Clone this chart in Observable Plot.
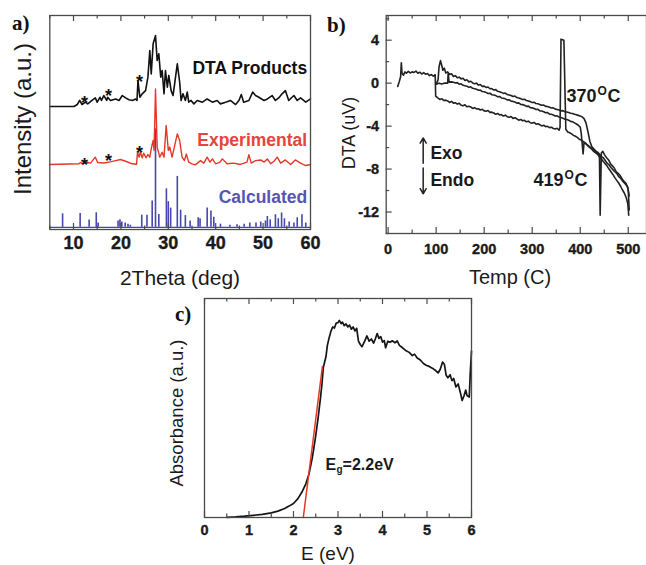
<!DOCTYPE html>
<html><head><meta charset="utf-8">
<script src="https://cdn.jsdelivr.net/npm/d3@7"></script>
<script src="https://cdn.jsdelivr.net/npm/@observablehq/plot@0.6"></script>
<style>
body{margin:0;background:#fff;overflow:hidden}
#root{position:relative;width:646px;height:565px;font-family:"Liberation Sans",Arial,sans-serif;overflow:hidden}
.lbl{position:absolute;white-space:nowrap;color:#1a1a1a;line-height:1}
.pl{position:absolute;white-space:nowrap;color:#111;font-family:"Liberation Serif","Times New Roman",serif;font-weight:bold;line-height:1}
</style></head><body><div id="root"></div><script>
// ---------- panel a: XRD (2Theta, arbitrary intensity, curves offset as drawn) ----------
const xrdSeries = ["DTA Products", "Experimental", "Calculated"];
const xrdMajor = [10, 20, 30, 40, 50, 60];
const xrdMinor = [5, 15, 25, 35, 45, 55];
const dtaProducts = [[5,57.5],[10.1,57.5],[10.8,58.4],[11.3,60.3],[11.8,58.4],[12.5,59.5],[13,58.7],[13.9,60.3],[14.6,61.5],[15,59.5],[15.6,61.8],[15.9,60.3],[16.4,62.6],[17,60.3],[17.2,61.8],[17.8,60.3],[18.9,61],[19.6,60.3],[20.3,62.6],[21,61.5],[21.7,60.6],[22.4,60.3],[23.1,61],[23.4,60.3],[23.6,69.6],[24,61.8],[24.5,63.4],[25.2,64.9],[25.7,71.2],[26.1,83.6],[26.4,72.7],[26.8,86.8],[27.3,90.6],[27.65,79],[28,82.1],[28.4,71.2],[28.7,74.3],[29.1,63.4],[29.4,74.3],[29.8,66.5],[30.1,72],[30.6,64.9],[31,62.6],[31.9,77.4],[32.4,68.8],[32.7,60.3],[33.1,63.4],[33.6,60.3],[34,64.2],[34.3,59.5],[34.8,60.3],[35.4,58.7],[36.1,60.3],[37.2,59.5],[38.2,61],[39.3,59.5],[40.3,60.3],[41,58.7],[42.1,59.5],[43.1,60.3],[44.2,58.4],[44.9,60.3],[45.4,63.1],[45.9,59.5],[47,60.3],[47.8,64.2],[48.4,62.6],[49.1,61.8],[50.2,60.3],[50.9,61],[51.9,62.6],[52.6,60.3],[53.3,61.5],[54,63.4],[54.7,64.9],[55.4,60.3],[56.5,62.6],[57.2,60.3],[57.9,61.5],[59,59.5],[60,61]];
const experimental = [[5,30.4],[11.1,30.7],[11.5,31.3],[11.8,30.7],[13,31.3],[13.6,31],[14.6,33.8],[15.1,31.3],[16.4,31.1],[17.8,31.6],[18.9,32.2],[19.9,32.7],[21,31.9],[22.4,30.7],[23.3,30.5],[23.5,36.1],[23.85,33.8],[24.1,36.1],[24.5,33.5],[24.8,35.7],[25.3,33.5],[25.7,35],[26.1,33.8],[26.4,37.7],[26.8,41.6],[27,36.9],[27.3,65.7],[27.65,38.5],[28.2,33.8],[28.7,36.1],[29.1,33.8],[29.55,48.6],[30,36.9],[30.3,38.5],[30.8,33.8],[31.9,44.7],[32.4,41.6],[32.9,33.8],[33.4,32.2],[33.8,35.3],[34.3,31.5],[35,30.7],[35.7,30.2],[36.8,32.2],[37.5,31],[38.2,33.8],[38.8,31.5],[39.3,33],[40,30.7],[40.9,31.5],[41.4,33],[42.4,30.7],[43.8,31],[45.2,30.4],[46.6,31.5],[47,35],[47.5,31],[48.4,32.2],[49.5,32.5],[50.2,31.5],[50.9,33],[51.6,30.7],[52.3,31.9],[53,33.8],[53.7,31],[54.7,32.5],[55.8,30.4],[56.8,32.5],[57.9,31],[59,29.9],[60,30.4]];
const calcBase = 1;
const calcPeaks = [[7.7,7.3],[11.4,7.5],[13.3,4.4],[14.8,7.8],[15.2,3],[19.4,4],[19.8,4.5],[20.2,3.5],[20.9,3],[21.5,2.5],[22,2],[24.4,6.7],[25.5,6.7],[26.6,13.3],[27.3,47],[28,7],[29.6,19],[30,13],[30.5,10],[31.9,24.8],[32.6,9],[33.6,6.5],[34.6,4],[36.3,5.5],[36.7,5],[38.2,10],[39,8.6],[39.6,5.7],[41,2.5],[43,2],[44.5,2.2],[46,2.5],[47.2,3],[48.5,3],[49.5,3.5],[50.5,4],[50.9,6.1],[51.5,4.5],[52.6,6.9],[53.2,5],[53.9,7.7],[54.5,5],[55.5,3.5],[56.5,3],[57.2,5.5],[58.2,6.9],[59,3]];
const starPeaks = [12.3, 17.4, 23.9];

// ---------- panel b: DTA (Temp C vs uV) ----------
const dtaMajorX = [0, 100, 200, 300, 400, 500];
const dtaMinorX = [50, 150, 250, 350, 450];
const dtaMajorY = [-12, -8, -4, 0, 4];
const dtaMinorY = [-14, -10, -6, -2, 2, 6];
const dtaRun1 = [[20,-0.3],[23,0.1],[26,0.6],[27.5,1.9],[29,0.9],[32,0.75],[35,1.05],[38,0.92],[42,1.1],[46,0.95],[50,1.05],[54,1],[58,1.12],[62,0.92],[66,1.02],[70,0.85],[74,0.98],[78,0.84],[82,0.9],[86,0.7],[90,0.8],[94,0.66],[98,0.78],[99,-1.2],[104,-1.4],[108,-1.52],[112,-1.45],[116,-1.62],[120,-1.58],[124,-1.66],[128,-1.8],[132,-1.7],[136,-1.86],[140,-1.82],[144,-1.95],[148,-1.88],[152,-2.05],[156,-2.1],[160,-2.02],[164,-2.2],[168,-2.15],[172,-2.22],[176,-2.35],[180,-2.28],[184,-2.4],[188,-2.38],[192,-2.5],[196,-2.44],[200,-2.58],[204,-2.62],[208,-2.55],[212,-2.72],[216,-2.7],[220,-2.78],[224,-2.9],[228,-2.82],[232,-2.96],[236,-2.92],[240,-3.06],[244,-2.98],[248,-3.12],[252,-3.18],[256,-3.1],[260,-3.28],[264,-3.22],[268,-3.32],[272,-3.45],[276,-3.38],[280,-3.5],[284,-3.46],[288,-3.6],[292,-3.54],[296,-3.68],[300,-3.72],[304,-3.66],[308,-3.82],[312,-3.78],[316,-3.88],[320,-3.98],[324,-3.92],[328,-4.05],[332,-4.02],[336,-4.14],[340,-4.1],[344,-4.22],[348,-4.26],[352,-4.2],[356,-4.38],[358,-4.1],[360,4.1],[366,4],[370,-4.3],[374,-4.55],[378,-4.62],[382,-4.72],[386,-4.86],[390,-4.95],[394,-5.05],[398,-5.22],[402,-5.3],[406,-5.42],[410,-5.6],[414,-5.72],[418,-5.85],[422,-6.02],[426,-6.12],[430,-6.28],[434,-6.45],[438,-6.6],[440,-6.8],[441.5,-12.3],[444,-6.5],[447,-6.35],[451,-6.7],[455,-6.95],[459,-7.15],[463,-7.5],[467,-7.7],[471,-7.9],[475,-8.25],[479,-8.4],[483,-8.6],[487,-8.9],[491,-9.15],[495,-9.3],[498,-9.6],[500,-10],[502,-11.8]];
const dtaRun2 = [[101,0],[104,0.3],[106,1.5],[109,2.1],[112,1.6],[114,1.2],[117,1.4],[120,0.95],[124,1.05],[128,0.8],[132,0.88],[136,0.62],[140,0.7],[144,0.5],[148,0.56],[152,0.4],[156,0.45],[160,0.25],[164,0.32],[168,0.12],[172,0.18],[176,0.02],[180,-0.05],[184,0],[188,-0.18],[192,-0.12],[196,-0.3],[200,-0.28],[204,-0.4],[208,-0.36],[212,-0.52],[216,-0.5],[220,-0.64],[224,-0.6],[228,-0.76],[232,-0.8],[236,-0.86],[240,-0.95],[244,-0.92],[248,-1.06],[252,-1.1],[256,-1.15],[260,-1.24],[264,-1.2],[268,-1.34],[272,-1.38],[276,-1.44],[280,-1.52],[284,-1.5],[288,-1.62],[292,-1.66],[296,-1.72],[300,-1.8],[304,-1.78],[308,-1.9],[312,-1.92],[316,-2],[320,-2.06],[324,-2.04],[328,-2.16],[332,-2.18],[336,-2.25],[340,-2.32],[344,-2.3],[348,-2.42],[352,-2.45],[356,-2.5],[360,-2.58],[364,-2.56],[368,-2.66],[372,-2.68],[376,-2.74],[380,-2.8],[384,-2.82],[388,-2.9],[392,-2.94],[396,-3],[400,-3.06],[404,-3.14],[408,-3.3],[412,-3.7],[416,-4.5],[420,-5.4],[424,-5.9],[428,-6.1],[432,-6.3],[436,-6.42],[440,-6.6],[444,-6.85],[448,-6.95],[452,-7.2],[456,-7.45],[460,-7.6],[464,-7.85],[468,-8.05],[472,-8.25],[476,-8.4],[480,-8.7],[484,-8.85],[488,-9.1],[492,-9.3],[496,-9.5],[499,-9.7],[502,-10.5]];
const dtaRun3 = [[100,-0.1],[106,0],[112,-0.08],[118,0.02],[124,0],[125,0.9],[127,0.1],[132,0.12],[136,0.08],[140,0.02],[144,0.05],[148,-0.1],[152,-0.06],[156,-0.2],[160,-0.24],[164,-0.28],[168,-0.38],[172,-0.34],[176,-0.48],[180,-0.52],[184,-0.56],[188,-0.66],[192,-0.64],[196,-0.78],[200,-0.8],[204,-0.86],[208,-0.96],[212,-0.94],[216,-1.08],[220,-1.1],[224,-1.16],[228,-1.26],[232,-1.24],[236,-1.38],[240,-1.4],[244,-1.46],[248,-1.56],[252,-1.54],[256,-1.68],[260,-1.7],[264,-1.76],[268,-1.86],[272,-1.84],[276,-1.98],[280,-2],[284,-2.06],[288,-2.16],[292,-2.14],[296,-2.28],[300,-2.3],[304,-2.36],[308,-2.46],[312,-2.44],[316,-2.58],[320,-2.6],[324,-2.66],[328,-2.76],[332,-2.74],[336,-2.88],[340,-2.9],[344,-2.96],[348,-3.06],[352,-3.04],[356,-3.16],[360,-3.2],[364,-3.26],[368,-3.36],[372,-3.38],[376,-3.46],[380,-3.56],[384,-3.6],[388,-3.7],[392,-3.8],[396,-3.92],[400,-4.1],[402,-4.6],[404,-5.6],[406,-6.6],[408,-5.5],[412,-5.62],[416,-5.85],[420,-6],[424,-6.15],[428,-6.35],[432,-6.5],[436,-6.62],[440,-6.85],[444,-7.05],[448,-7.3],[452,-7.5],[456,-7.72],[460,-8],[464,-8.25],[468,-8.5],[472,-8.8],[476,-9.05],[480,-9.3],[484,-9.6],[488,-9.95],[492,-10.25],[496,-10.7],[499,-11.2],[501,-12.3]];
const dtaNotes = ["370", "419", "Exo", "Endo"];

// ---------- panel c: absorbance vs E ----------
const eMajor = [0, 1, 2, 3, 4, 5, 6];
const eMinor = [0.5, 1.5, 2.5, 3.5, 4.5, 5.5];
const absorbance = [[0.5,0.1],[0.7,0.3],[0.9,0.6],[1.1,1],[1.3,1.4],[1.5,2.1],[1.65,2.9],[1.8,4.1],[1.9,5.2],[2,6.4],[2.1,8.6],[2.2,12],[2.28,15.5],[2.35,20],[2.42,27],[2.49,36],[2.55,45],[2.6,53.5],[2.64,61],[2.67,68.5],[2.7,71],[2.73,73.5],[2.76,78.5],[2.8,82],[2.84,85],[2.88,87],[2.92,86.5],[2.96,88.8],[3,89],[3.03,90],[3.07,88.5],[3.1,89.2],[3.14,87.6],[3.18,88.4],[3.22,87],[3.26,87.8],[3.3,86],[3.34,87],[3.38,85.2],[3.42,86.4],[3.46,80.5],[3.5,79],[3.54,78],[3.6,80.5],[3.65,82.9],[3.7,80.5],[3.75,81.5],[3.8,79.6],[3.84,81.6],[3.88,84],[3.92,81.8],[3.96,82.6],[4,80.1],[4.04,80.8],[4.07,77.5],[4.12,80.5],[4.17,80],[4.22,80.7],[4.28,79.8],[4.33,80.6],[4.38,78.6],[4.45,77.5],[4.52,76.3],[4.6,75.4],[4.67,73.9],[4.72,74.6],[4.78,72.8],[4.85,71.9],[4.92,70.3],[4.98,69.5],[5.05,69],[5.12,68.2],[5.2,67],[5.25,66],[5.3,67.8],[5.35,71],[5.39,70],[5.43,65],[5.47,63.8],[5.52,65.2],[5.56,62.5],[5.6,63.5],[5.65,59.6],[5.7,61],[5.75,57],[5.79,53.4],[5.83,55.5],[5.87,58.2],[5.9,55.7],[5.95,55],[5.97,65],[6,76]];
const tangent = [[2.22,0],[2.65,69]];
const gapText = ["E", "g", "=2.2eV"];

// ---------- drawing ----------
const root = document.getElementById("root");
const FONT = "Liberation Sans, Arial, sans-serif";
const AX = "#4a4a4a";
const RED = "#e4372b", BLUE = "#4646ae";
function place(svg, left, top) {
  svg.style.position = "absolute"; svg.style.left = left + "px"; svg.style.top = top + "px";
  svg.style.maxWidth = "none"; svg.style.overflow = "visible";
  svg.querySelectorAll("text").forEach(t => { t.setAttribute("font-weight", "bold"); t.style.fontWeight = "bold"; });
  svg.querySelectorAll('g[aria-label$="tick label"] text').forEach(t => {
    t.style.stroke = "#1a1a1a"; t.style.strokeWidth = "0.35px"; t.style.paintOrder = "stroke";
  });
  root.appendChild(svg);
}
function htmlLabel(text, cx, cy, size, rotate) {
  const d = document.createElement("div"); d.className = "lbl"; d.textContent = text;
  d.style.left = cx + "px"; d.style.top = cy + "px"; d.style.fontSize = size + "px";
  d.style.transform = "translate(-50%,-50%)" + (rotate ? " rotate(-90deg)" : "");
  root.appendChild(d);
}
function panelLabel(text, left, top) {
  const d = document.createElement("div"); d.className = "pl"; d.textContent = text;
  d.style.left = left + "px"; d.style.top = top + "px"; d.style.fontSize = "21px"; root.appendChild(d);
}
const bold = {fontWeight: "bold", fontFamily: FONT};
const plotStyle = {fontFamily: FONT, fontWeight: "bold", background: "transparent", overflow: "visible"};

// panel a
const aH = 214;
place(Plot.plot({
  width: 320, height: 290, marginLeft: 49.3, marginRight: 10, marginTop: 15, marginBottom: 61,
  style: plotStyle,
  x: {domain: [5, 60]}, y: {domain: [0, 100], axis: null},
  marks: [
    Plot.ruleY([calcBase], {y: d => d, stroke: BLUE, strokeWidth: 1.4}),
    Plot.ruleX(calcPeaks, {x: d => d[0], y1: d => calcBase, y2: d => d[1], stroke: BLUE, strokeWidth: 1.6}),
    Plot.line(experimental, {x: d => d[0], y: d => d[1], stroke: RED, strokeWidth: 1.4}),
    Plot.line(dtaProducts, {x: d => d[0], y: d => d[1], stroke: "#111", strokeWidth: 1.6}),
    Plot.text(starPeaks, {x: d => d, y: [61.5, 64.5, 71], text: d => "*", fontSize: 18, ...bold, dy: 5, fill: "#111"}),
    Plot.text(starPeaks, {x: d => d, y: [32.2, 34.2, 38], text: d => "*", fontSize: 18, ...bold, dy: 5, fill: "#111"}),
    Plot.text([xrdSeries[0]], {x: 59.3, y: 75.2, text: d => d, textAnchor: "end", fontSize: 17.5, ...bold, fill: "#111"}),
    Plot.text([xrdSeries[1]], {x: 59.3, y: 41.8, text: d => d, textAnchor: "end", fontSize: 17.5, ...bold, fill: "#e5453a"}),
    Plot.text([xrdSeries[2]], {x: 59.3, y: 15.2, text: d => d, textAnchor: "end", fontSize: 17.5, ...bold, fill: "#5454b6"}),
    Plot.ruleX(xrdMajor, {x: d => d, insetTop: aH - 6, stroke: AX, strokeWidth: 1.2}),
    Plot.ruleX(xrdMajor, {x: d => d, insetBottom: aH - 6, stroke: AX, strokeWidth: 1.2}),
    Plot.ruleX(xrdMinor, {x: d => d, insetTop: aH - 3.5, stroke: AX, strokeWidth: 1.2}),
    Plot.ruleX(xrdMinor, {x: d => d, insetBottom: aH - 3.5, stroke: AX, strokeWidth: 1.2}),
    Plot.axisX({ticks: xrdMajor, tickSize: 0, tickPadding: 7, fontSize: 18, tickFormat: d => String(d), label: null, fill: "#1a1a1a"}),
    Plot.frame({stroke: AX, strokeWidth: 1.3})
  ]
}), 0, 0);

// panel b
const bH = 218, bW = 260.3;
place(Plot.plot({
  width: 326, height: 290, marginLeft: 65.7, marginRight: 0, marginTop: 15, marginBottom: 57,
  style: plotStyle,
  x: {domain: [-4, 538]}, y: {domain: [-14, 6.3]},
  marks: [
    Plot.line(dtaRun1, {x: d => d[0], y: d => d[1], stroke: "#222", strokeWidth: 1.6}),
    Plot.line(dtaRun2, {x: d => d[0], y: d => d[1], stroke: "#222", strokeWidth: 1.6}),
    Plot.line(dtaRun3, {x: d => d[0], y: d => d[1], stroke: "#222", strokeWidth: 1.6}),
    Plot.arrow([0], {x1: 73, y1: -7.45, x2: 73, y2: -5.1, stroke: "#222", strokeWidth: 1.5, headLength: 6}),
    Plot.arrow([0], {x1: 73, y1: -7.9, x2: 73, y2: -10.3, stroke: "#222", strokeWidth: 1.5, headLength: 6}),
    Plot.text([dtaNotes[0]], {x: 371.5, y: -1.25, text: d => d, textAnchor: "start", fontSize: 18, ...bold, fill: "#1a1a1a"}),
    Plot.text(["O"], {x: 371.5, y: -1.25, text: d => d, textAnchor: "start", dx: 31, dy: -5, fontSize: 12, ...bold, fill: "#1a1a1a"}),
    Plot.text(["C"], {x: 371.5, y: -1.25, text: d => d, textAnchor: "start", dx: 41, fontSize: 18, ...bold, fill: "#1a1a1a"}),
    Plot.text([dtaNotes[1]], {x: 302.5, y: -9.07, text: d => d, textAnchor: "start", fontSize: 18, ...bold, fill: "#1a1a1a"}),
    Plot.text(["O"], {x: 302.5, y: -9.07, text: d => d, textAnchor: "start", dx: 31, dy: -5, fontSize: 12, ...bold, fill: "#1a1a1a"}),
    Plot.text(["C"], {x: 302.5, y: -9.07, text: d => d, textAnchor: "start", dx: 41, fontSize: 18, ...bold, fill: "#1a1a1a"}),
    Plot.text([dtaNotes[2]], {x: 88, y: -6.55, text: d => d, textAnchor: "start", fontSize: 17.5, ...bold, fill: "#1a1a1a"}),
    Plot.text([dtaNotes[3]], {x: 88, y: -9.07, text: d => d, textAnchor: "start", fontSize: 17.5, ...bold, fill: "#1a1a1a"}),
    Plot.ruleX(dtaMajorX, {x: d => d, insetTop: bH - 6, stroke: AX, strokeWidth: 1.2}),
    Plot.ruleX(dtaMajorX, {x: d => d, insetBottom: bH - 6, stroke: AX, strokeWidth: 1.2}),
    Plot.ruleX(dtaMinorX, {x: d => d, insetTop: bH - 3.5, stroke: AX, strokeWidth: 1.2}),
    Plot.ruleX(dtaMinorX, {x: d => d, insetBottom: bH - 3.5, stroke: AX, strokeWidth: 1.2}),
    Plot.ruleY(dtaMajorY, {y: d => d, insetRight: bW - 6, stroke: AX, strokeWidth: 1.2}),
    Plot.ruleY(dtaMinorY, {y: d => d, insetRight: bW - 3.5, stroke: AX, strokeWidth: 1.2}),
    Plot.axisX({ticks: dtaMajorX, tickSize: 0, tickPadding: 10, fontSize: 14.5, tickFormat: d => String(d), label: null, fill: "#1a1a1a"}),
    Plot.axisY({ticks: dtaMajorY, tickSize: 0, tickPadding: 7, fontSize: 14.5, tickFormat: d => String(d), label: null, fill: "#1a1a1a"}),
    Plot.frame({stroke: AX, strokeWidth: 1.3})
  ]
}), 320, 0);

// panel c
const cH = 219;
place(Plot.plot({
  width: 340, height: 275, marginLeft: 64, marginRight: 9, marginTop: 8, marginBottom: 48,
  style: plotStyle,
  x: {domain: [0, 6]}, y: {domain: [0, 100], axis: null},
  marks: [
    Plot.line(absorbance, {x: d => d[0], y: d => d[1], stroke: "#151515", strokeWidth: 1.7}),
    Plot.line(tangent, {x: d => d[0], y: d => d[1], stroke: RED, strokeWidth: 1.5}),
    Plot.text([gapText[0]], {x: 2.72, y: 24.2, text: d => d, textAnchor: "start", fontSize: 16, ...bold, fill: "#1a1a1a"}),
    Plot.text([gapText[1]], {x: 2.72, y: 24.2, text: d => d, textAnchor: "start", dx: 11, dy: 5, fontSize: 10, ...bold, fill: "#1a1a1a"}),
    Plot.text([gapText[2]], {x: 2.72, y: 24.2, text: d => d, textAnchor: "start", dx: 17, fontSize: 16, ...bold, fill: "#1a1a1a"}),
    Plot.ruleX(eMajor, {x: d => d, insetTop: cH - 6, stroke: AX, strokeWidth: 1.2}),
    Plot.ruleX(eMajor, {x: d => d, insetBottom: cH - 6, stroke: AX, strokeWidth: 1.2}),
    Plot.ruleX(eMinor, {x: d => d, insetTop: cH - 3.5, stroke: AX, strokeWidth: 1.2}),
    Plot.ruleX(eMinor, {x: d => d, insetBottom: cH - 3.5, stroke: AX, strokeWidth: 1.2}),
    Plot.axisX({ticks: eMajor, tickSize: 0, tickPadding: 7, fontSize: 14.5, tickFormat: d => String(d), label: null, fill: "#1a1a1a"}),
    Plot.frame({stroke: AX, strokeWidth: 1.3})
  ]
}), 140, 290);

// titles and panel letters
htmlLabel("Intensity (a.u.)", 22.5, 119, 24, true);
htmlLabel("2Theta (deg)", 180, 277, 21, false);
htmlLabel("DTA (uV)", 349, 133, 18, true);
htmlLabel("Temp (C)", 510, 277, 20, false);
htmlLabel("Absorbance (a.u.)", 177, 413, 18.5, true);
htmlLabel("E (eV)", 328, 553, 19, false);
panelLabel("a)", 12, 13);
panelLabel("b)", 327, 15);
panelLabel("c)", 175, 304);
</script></body></html>
